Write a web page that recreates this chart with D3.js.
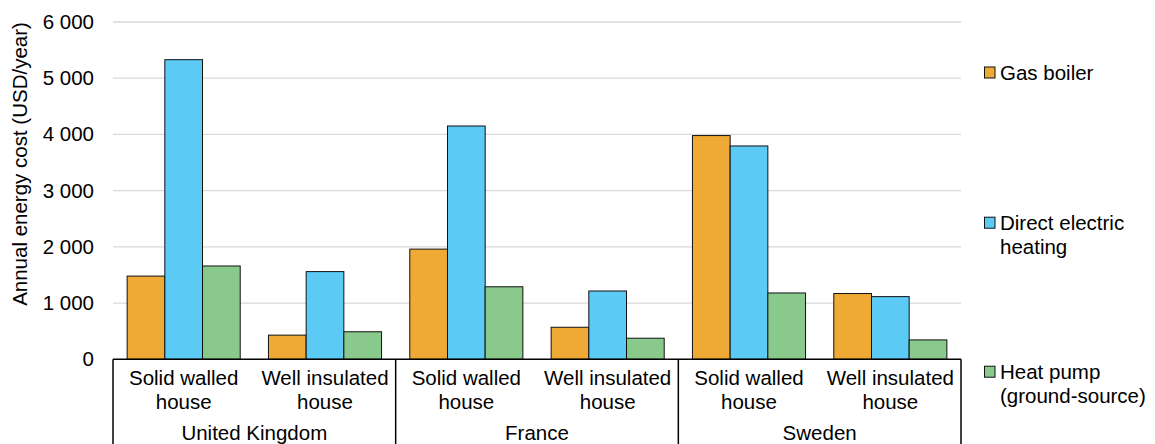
<!DOCTYPE html>
<html>
<head>
<meta charset="utf-8">
<script src="https://cdn.jsdelivr.net/npm/d3@7"></script>
<style>
  html, body { margin: 0; padding: 0; background: #fff; }
  svg { display: block; font-family: "Liberation Sans", Arial, sans-serif; }
</style>
</head>
<body>
<svg id="chart" width="1155" height="444"></svg>
<script>
const groups = ["United Kingdom", "France", "Sweden"];
const subcategories = ["Solid walled house", "Well insulated house"];
const subLabelLines = [["Solid walled", "house"], ["Well insulated", "house"]];
const seriesNames = ["Gas boiler", "Direct electric heating", "Heat pump (ground-source)"];
const legendLines = [["Gas boiler"], ["Direct electric", "heating"], ["Heat pump", "(ground-source)"]];
const seriesColors = ["#EFA935", "#5BCBF5", "#89C98B"];
// values in order UK solid, UK well, FR solid, FR well, SE solid, SE well
const gasBoiler      = [1480, 430, 1960, 570, 3980, 1170];
const directElectric = [5330, 1560, 4150, 1215, 3795, 1115];
const heatPump       = [1660, 490, 1290, 375, 1180, 345];
const yTicks = [0, 1000, 2000, 3000, 4000, 5000, 6000];
const yTitle = "Annual energy cost (USD/year)";

(function () {
const seriesValues = [gasBoiler, directElectric, heatPump];
const svg = d3.select("#chart");
const pl = 113, pr = 961, pt = 22, pb = 359.3;
const fontSize = 20.5;

const x0 = d3.scaleBand().domain(groups).range([pl, pr]).padding(0);
const x1 = d3.scaleBand().domain(subcategories).range([0, x0.bandwidth()]).padding(0);
const x2 = d3.scaleBand().domain(seriesNames).range([0, x1.bandwidth()]).paddingInner(0).paddingOuter(0.375);
const y = d3.scaleLinear().domain([0, 6000]).range([pb, pt]);

const fmt = v => d3.format(",")(v).replace(/,/g, " ");

// gridlines
svg.append("g").selectAll("line").data(yTicks.filter(t => t > 0)).join("line")
  .attr("x1", pl).attr("x2", pr)
  .attr("y1", d => y(d)).attr("y2", d => y(d))
  .attr("stroke", "#d9d9d9").attr("stroke-width", 1.3);

// y axis labels
const yAxis = d3.axisLeft(y).tickValues(yTicks).tickFormat(fmt).tickSize(0).tickPadding(19);
const ya = svg.append("g").attr("transform", `translate(${pl},0)`).call(yAxis);
ya.select(".domain").remove();
ya.selectAll("text").attr("font-size", fontSize).attr("fill", "#000")
  .attr("font-family", "Liberation Sans, Arial, sans-serif");

// y title
svg.append("text")
  .attr("transform", `translate(27,${(pt + 306) / 2}) rotate(-90)`)
  .attr("text-anchor", "middle")
  .attr("font-size", fontSize)
  .attr("fill", "#000")
  .text(yTitle);

// bars
const cells = [];
groups.forEach((g, gi) => {
  subcategories.forEach((s, si) => {
    seriesNames.forEach((n, ni) => {
      cells.push({ g, s, n, ni, v: seriesValues[ni][gi * 2 + si] });
    });
  });
});
svg.append("g").selectAll("rect").data(cells).join("rect")
  .attr("x", d => x0(d.g) + x1(d.s) + x2(d.n))
  .attr("width", x2.bandwidth())
  .attr("y", d => y(d.v))
  .attr("height", d => y(0) - y(d.v))
  .attr("fill", d => seriesColors[d.ni])
  .attr("stroke", "#111")
  .attr("stroke-width", 1);

// category axis box
const axisG = svg.append("g");
axisG.append("line").attr("x1", pl).attr("x2", pr).attr("y1", pb).attr("y2", pb)
  .attr("stroke", "#000").attr("stroke-width", 1.5);
const sepX = groups.map(g => x0(g)).concat([pr]);
axisG.selectAll("line.sep").data(sepX).join("line").attr("class", "sep")
  .attr("x1", d => d).attr("x2", d => d).attr("y1", pb).attr("y2", 444)
  .attr("stroke", "#000").attr("stroke-width", 1.5);

// subcategory labels
groups.forEach(g => {
  subcategories.forEach((s, si) => {
    const cx = x0(g) + x1(s) + x1.bandwidth() / 2;
    const t = axisG.append("text").attr("text-anchor", "middle").attr("font-size", fontSize).attr("fill", "#000");
    subLabelLines[si].forEach((line, li) => {
      t.append("tspan").attr("x", cx).attr("y", 385 + li * 23.5).text(line);
    });
  });
  axisG.append("text").attr("text-anchor", "middle").attr("font-size", fontSize).attr("fill", "#000")
    .attr("x", x0(g) + x0.bandwidth() / 2).attr("y", 440).text(g);
});

// legend
const legendY = [72.5, 222.7, 371.7];
const lg = svg.append("g");
seriesNames.forEach((n, i) => {
  lg.append("rect").attr("x", 984.5).attr("y", legendY[i] - 5.5).attr("width", 10.5).attr("height", 11)
    .attr("fill", seriesColors[i]).attr("stroke", "#111").attr("stroke-width", 1);
  const t = lg.append("text").attr("font-size", fontSize).attr("fill", "#000");
  legendLines[i].forEach((line, li) => {
    t.append("tspan").attr("x", 1000).attr("y", legendY[i] + 7 + li * 24).text(line);
  });
});
})();
</script>
</body>
</html>
